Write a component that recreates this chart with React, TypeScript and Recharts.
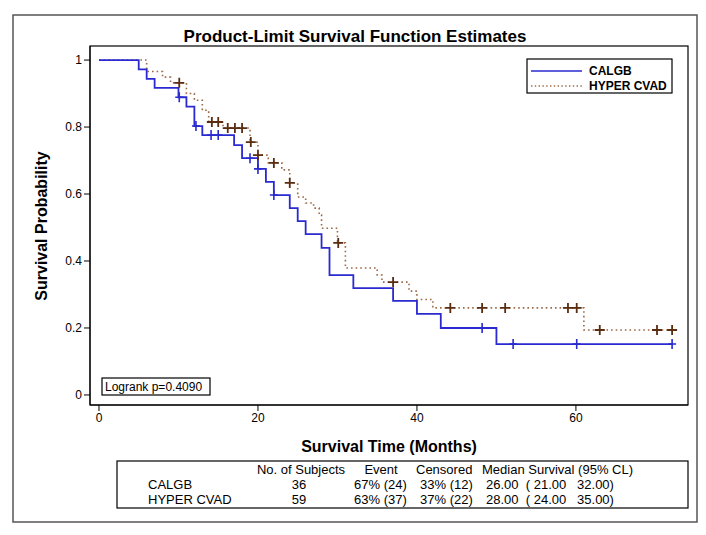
import React from "react";
import { ComposedChart, Line, Scatter, XAxis, YAxis } from "recharts";

// CALGB step curve (months, survival) and censor times
const calgbTime = [0, 5, 6, 7, 10, 11, 12, 13, 17, 18, 20, 21, 22, 24, 25, 26, 28, 29, 32, 37, 40, 43, 50, 72.2];
const calgbSurv = [1, 0.972, 0.944, 0.917, 0.889, 0.861, 0.803, 0.776, 0.746, 0.707, 0.675, 0.636, 0.597, 0.558, 0.519, 0.48, 0.439, 0.358, 0.319, 0.281, 0.242, 0.2, 0.152, 0.152];
const calgbCensor = [10.1, 12.2, 14.1, 15, 19, 20, 22, 48.2, 52.1, 60.1, 72.1];

// HYPER CVAD step curve and censor times
const hyperTime = [0, 6, 8, 9, 11, 12, 13, 13.8, 15.6, 19, 20, 21.3, 23, 24, 25, 26, 27, 27.7, 28, 30, 31, 35, 35.6, 39, 40, 42, 61, 72.5];
const hyperSurv = [1, 0.966, 0.949, 0.932, 0.9, 0.88, 0.85, 0.815, 0.797, 0.755, 0.716, 0.693, 0.672, 0.633, 0.591, 0.573, 0.558, 0.537, 0.498, 0.454, 0.379, 0.358, 0.337, 0.31, 0.285, 0.26, 0.194, 0.194];
const hyperCensor = [10.1, 14.2, 15, 16.2, 17.1, 18, 19.1, 20, 22, 24, 30.1, 37, 44.2, 48.2, 51.1, 59, 60.1, 63, 70.2, 72.1];

const xTicks = [0, 20, 40, 60];
const yTicks = [0, 0.2, 0.4, 0.6, 0.8, 1];

const groupNames = ["CALGB", "HYPER CVAD"];
const tableHeader = ["No. of Subjects", "Event", "Censored", "Median Survival (95% CL)"];
const subjects = ["36", "59"];
const events = ["67% (24)", "63% (37)"];
const censored = ["33% (12)", "37% (22)"];
const medians = ["26.00  ( 21.00   32.00)", "28.00  ( 24.00   35.00)"];

const FONT = "'Liberation Sans', Arial, Helvetica, sans-serif";
const BLUE = "#2a2ad0";
const BROWN = "#9a6a48";
const BROWN_DARK = "#5a2c10";

function survAt(times: number[], surv: number[], t: number) {
  let s = surv[0];
  for (let i = 0; i < times.length; i++) {
    if (times[i] <= t) s = surv[i];
  }
  return s;
}

const calgbData = calgbTime.map((t, i) => ({ t, s: calgbSurv[i] }));
const hyperData = hyperTime.map((t, i) => ({ t, s: hyperSurv[i] }));
const calgbMarks = calgbCensor.map((t) => ({ t, s: survAt(calgbTime, calgbSurv, t) }));
const hyperMarks = hyperCensor.map((t) => ({ t, s: survAt(hyperTime, hyperSurv, t) }));

const BlueTick = (props: any) => {
  const { cx, cy } = props;
  return (
    <path d={`M${cx},${cy - 5}V${cy + 5}M${cx - 4},${cy}H${cx + 4}`} stroke={BLUE} strokeWidth={1.6} fill="none" />
  );
};

const BrownCross = (props: any) => {
  const { cx, cy } = props;
  return (
    <path d={`M${cx},${cy - 5}V${cy + 5}M${cx - 5},${cy}H${cx + 5}`} stroke={BROWN_DARK} strokeWidth={1.8} fill="none" />
  );
};

export default function App() {
  const tickStyle = { fontSize: 12, fill: "#000", fontFamily: FONT };
  return (
    <div style={{ position: "absolute", left: 0, top: 0, width: 706, height: 535, background: "#fff", fontFamily: FONT }}>
      <ComposedChart width={706} height={535} margin={{ top: 46, right: 18, bottom: 100, left: 0 }}>
        <XAxis
          type="number"
          dataKey="t"
          domain={[-1.13, 74.1]}
          ticks={xTicks}
          allowDataOverflow
          height={30}
          tickSize={6}
          tick={tickStyle}
          axisLine={{ stroke: "#000" }}
          tickLine={{ stroke: "#000" }}
        />
        <YAxis
          type="number"
          dataKey="s"
          domain={[-0.03, 1.042]}
          ticks={yTicks}
          allowDataOverflow
          width={90}
          tickSize={6}
          tick={tickStyle}
          tickFormatter={(v: number) => String(Number(v.toFixed(1)))}
          axisLine={{ stroke: "#000" }}
          tickLine={{ stroke: "#000" }}
        />
        <Line
          data={hyperData}
          dataKey="s"
          type="stepAfter"
          stroke={BROWN}
          strokeWidth={1.6}
          strokeDasharray="1.6 3"
          dot={false}
          isAnimationActive={false}
        />
        <Line
          data={calgbData}
          dataKey="s"
          type="stepAfter"
          stroke={BLUE}
          strokeWidth={1.8}
          dot={false}
          isAnimationActive={false}
        />
        <Scatter data={calgbMarks} dataKey="s" shape={BlueTick} isAnimationActive={false} />
        <Scatter data={hyperMarks} dataKey="s" shape={BrownCross} isAnimationActive={false} />
      </ComposedChart>

      <svg
        width={706}
        height={535}
        style={{ position: "absolute", left: 0, top: 0, pointerEvents: "none" }}
        fontFamily={FONT}
      >
        <rect x={13} y={15} width={684} height={507} fill="none" stroke="#555" strokeWidth={1.5} />
        <rect x={90} y={46} width={598} height={359} fill="none" stroke="#000" strokeWidth={1.2} />
        <text x={355} y={42} textAnchor="middle" fontSize={17} fontWeight="bold">
          Product-Limit Survival Function Estimates
        </text>
        <text x={389} y={452} textAnchor="middle" fontSize={16} fontWeight="bold">
          Survival Time (Months)
        </text>
        <text transform="translate(47,226) rotate(-90)" textAnchor="middle" fontSize={16} fontWeight="bold">
          Survival Probability
        </text>

        {/* legend */}
        <rect x={527} y={59} width={145} height={34} fill="#fff" stroke="#000" strokeWidth={1.2} />
        <line x1={531} x2={582} y1={71} y2={71} stroke={BLUE} strokeWidth={1.6} />
        <line x1={531} x2={582} y1={86} y2={86} stroke={BROWN} strokeWidth={1.4} strokeDasharray="1.4 2.4" />
        <text x={589} y={75} fontSize={12} fontWeight="bold">{groupNames[0]}</text>
        <text x={589} y={90} fontSize={12} fontWeight="bold">{groupNames[1]}</text>

        {/* logrank */}
        <rect x={102} y={378} width={108} height={17} fill="#fff" stroke="#000" strokeWidth={1.2} />
        <text x={105} y={391} fontSize={12}>Logrank p=0.4090</text>

        {/* summary table */}
        <rect x={117} y={461} width={571} height={47} fill="none" stroke="#000" strokeWidth={1.2} />
        <g fontSize={13}>
          <text x={301} y={474} textAnchor="middle">{tableHeader[0]}</text>
          <text x={381} y={474} textAnchor="middle">{tableHeader[1]}</text>
          <text x={416} y={474}>{tableHeader[2]}</text>
          <text x={482} y={474}>{tableHeader[3]}</text>
          {groupNames.map((g, i) => (
            <g key={g}>
              <text x={148} y={489 + i * 15}>{g}</text>
              <text x={299} y={489 + i * 15} textAnchor="middle">{subjects[i]}</text>
              <text x={354} y={489 + i * 15}>{events[i]}</text>
              <text x={420} y={489 + i * 15}>{censored[i]}</text>
              <text x={486} y={489 + i * 15} xmlSpace="preserve">{medians[i]}</text>
            </g>
          ))}
        </g>
      </svg>
    </div>
  );
}
